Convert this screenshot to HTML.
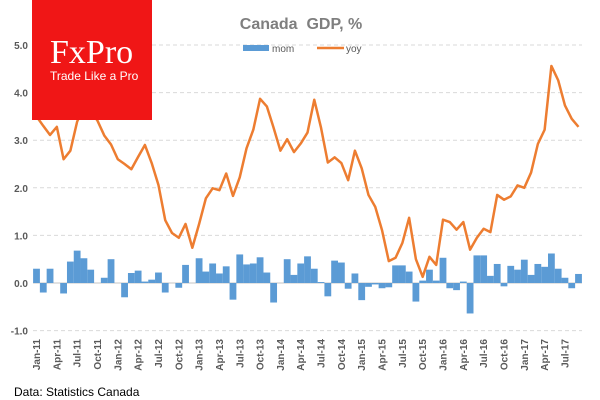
<!DOCTYPE html>
<html><head><meta charset="utf-8"><style>
body{margin:0;background:#fff;}
svg{display:block;font-family:"Liberation Sans",sans-serif;}
</style></head><body>
<svg id="chart" width="600" height="400" viewBox="0 0 600 400">
<g id="grid"></g><g id="bars"></g><g id="line"></g><g id="axes"></g>
<rect x="32" y="0" width="120" height="120" fill="#f01616"/>
<text x="50" y="63" fill="#fff" font-family="Liberation Serif,serif" font-size="34">FxPro</text>
<text x="50" y="80" fill="#fff" font-size="12">Trade Like a Pro</text>
<text x="301" y="29" text-anchor="middle" fill="#7f7f7f" font-size="16" font-weight="bold">Canada&#160; GDP, %</text>
<rect x="243" y="45" width="26" height="6" fill="#5b9bd5"/>
<text x="272" y="52" fill="#595959" font-size="10">mom</text>
<line x1="317" y1="48" x2="344" y2="48" stroke="#ed7d31" stroke-width="2.5"/>
<text x="346" y="52" fill="#595959" font-size="10">yoy</text>
<text x="14" y="396" fill="#000" font-size="12">Data: Statistics Canada</text>
</svg>
<script>
const months=["Jan","Feb","Mar","Apr","May","Jun","Jul","Aug","Sep","Oct","Nov","Dec"];
const yTicks=[-1,0,1,2,3,4,5];
const yTickLabels=["-1.0","0.0","1.0","2.0","3.0","4.0","5.0"];
const mom=[0.30,-0.20,0.30,0,-0.22,0.45,0.68,0.52,0.28,0,0.11,0.50,
0,-0.30,0.21,0.26,0.03,0.07,0.22,-0.20,0,-0.10,0.38,0,
0.52,0.24,0.41,0.20,0.35,-0.35,0.60,0.39,0.41,0.54,0.22,-0.41,
0,0.50,0.17,0.41,0.56,0.30,0.02,-0.28,0.47,0.43,-0.12,0.20,
-0.36,-0.08,-0.03,-0.11,-0.09,0.37,0.37,0.24,-0.39,0.05,0.28,0.05,
0.53,-0.11,-0.15,0.03,-0.64,0.58,0.58,0.15,0.40,-0.07,0.36,0.28,
0.49,0.17,0.40,0.34,0.62,0.30,0.11,-0.11,0.19];
const yoy=[3.5,3.3,3.11,3.28,2.6,2.78,3.39,3.7,3.6,3.41,3.1,2.91,
2.6,2.5,2.39,2.65,2.9,2.52,2.06,1.32,1.05,0.95,1.24,0.74,
1.24,1.78,1.99,1.95,2.3,1.83,2.22,2.83,3.22,3.87,3.71,3.26,
2.78,3.02,2.75,2.93,3.16,3.85,3.26,2.53,2.64,2.52,2.16,2.78,
2.41,1.85,1.6,1.11,0.46,0.53,0.84,1.37,0.5,0.13,0.55,0.38,
1.33,1.28,1.12,1.28,0.7,0.95,1.14,1.07,1.85,1.75,1.82,2.05,
2.0,2.32,2.92,3.22,4.56,4.26,3.73,3.45,3.28];
const NS="http://www.w3.org/2000/svg";
const X=i=>36.5+i*6.775;
const Y=v=>283-v*47.6;
function mk(tag,attrs,parent){const e=document.createElementNS(NS,tag);for(const k in attrs)e.setAttribute(k,attrs[k]);parent.appendChild(e);return e;}
const grid=document.getElementById('grid'),bars=document.getElementById('bars'),line=document.getElementById('line'),axes=document.getElementById('axes');
yTicks.forEach((t,i)=>{
 if(t!==0){const g=mk('line',{x1:33,x2:582,y1:Y(t),y2:Y(t),stroke:'#d9d9d9','stroke-dasharray':'4,3','stroke-width':1},grid);
 
 }
 const l=mk('text',{x:28,y:Y(t)+4,'text-anchor':'end',fill:'#595959','font-size':10,'font-weight':'bold'},axes);
 l.textContent=yTickLabels[i];
 
 
});
mom.forEach((v,i)=>{
 const r=mk('rect',{x:X(i)-3.4,width:6.8,y:Math.min(Y(v),Y(0)),height:Math.abs(Y(v)-Y(0)),fill:'#5b9bd5'},bars);
 
 
});
const z=mk('line',{x1:33,x2:582,y1:Y(0),y2:Y(0),stroke:'#d9d9d9','stroke-width':1.5},grid);


const p=mk('polyline',{points:yoy.map((v,i)=>X(i)+','+Y(v)).join(' '),fill:'none',stroke:'#ed7d31','stroke-width':2.5,'stroke-linejoin':'round'},line);


for(let i=0;i<mom.length;i+=3){
 const m=months[i%12]+'-'+(11+Math.floor(i/12));
 const t=mk('text',{transform:'translate('+(X(i)+3.5)+',339) rotate(-90)','text-anchor':'end',fill:'#595959','font-size':10,'font-weight':'bold'},axes);
 t.textContent=m;
 
 
}
</script>
</body></html>
